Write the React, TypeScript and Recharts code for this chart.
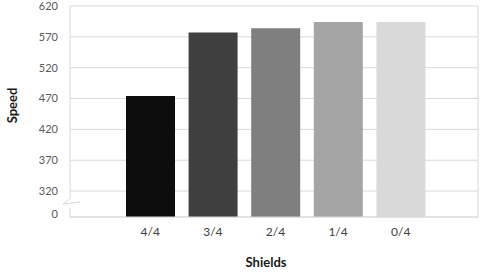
import { BarChart, Bar, Cell, XAxis, YAxis, CartesianGrid, Label } from 'recharts';

const categories = ['4/4', '3/4', '2/4', '1/4', '0/4'];
const speeds = [474, 577, 584, 594, 594];
const barColors = ['#0d0d0d', '#404040', '#7f7f7f', '#a5a5a5', '#d9d9d9'];

// bottom of the broken axis is shown as "0"
const yTicks = [278, 320, 370, 420, 470, 520, 570, 620];
const yTickLabels = ['0', '320', '370', '420', '470', '520', '570', '620'];

const data = categories.map((name, i) => ({ name, speed: speeds[i] }));

const FONT = 'Lato, "Open Sans", sans-serif';
const GRID = '#d9d9d9';

function YTick(props: any) {
  const { x, y, payload } = props;
  const idx = yTicks.indexOf(payload.value);
  const isBreak = idx === 0;
  return (
    <g>
      {isBreak && (
        <g>
          <rect x={66} y={y - 18} width={9} height={9} fill="#fff" />
          <path d={`M70,${y - 18} L63,${y - 13} L80,${y - 15}`} fill="none" stroke={GRID} strokeWidth={1} />
        </g>
      )}
      <text
        x={x}
        y={isBreak ? y - 3 : y}
        dy="0.35em"
        textAnchor="end"
        fill="#595959"
        fontSize={11}
        fontFamily={FONT}
      >
        {yTickLabels[idx]}
      </text>
    </g>
  );
}

function SpeedLabel(props: any) {
  const { viewBox } = props;
  const cx = viewBox.x + 12;
  const cy = viewBox.y + viewBox.height / 2 - 6;
  return (
    <text
      x={cx}
      y={cy}
      transform={`rotate(-90, ${cx}, ${cy})`}
      textAnchor="middle"
      dominantBaseline="central"
      fill="#1a1a1a"
      fontSize={13}
      fontWeight="bold"
      fontFamily={FONT}
    >
      Speed
    </text>
  );
}

export default function App() {
  return (
    <div style={{ position: 'absolute', left: 0, top: 0, background: '#fff' }}>
      <BarChart
        width={485}
        height={273}
        data={data}
        margin={{ top: 6, right: 7, left: 0, bottom: 0 }}
      >
        <CartesianGrid vertical={true} verticalPoints={[478]} stroke={GRID} />
        <XAxis
          dataKey="name"
          height={56}
          padding={{ left: 49, right: 46 }}
          axisLine={{ stroke: GRID }}
          tickLine={false}
          tickSize={0}
          tickMargin={10}
          tick={{ fill: '#404040', fontSize: 12, fontFamily: FONT }}
          label={{
            value: 'Shields',
            position: 'insideBottom',
            offset: 6,
            dx: -8,
            fill: '#1a1a1a',
            fontSize: 13,
            fontWeight: 'bold',
            fontFamily: FONT,
          }}
        />
        <YAxis
          width={70}
          domain={[278, 620]}
          ticks={yTicks}
          interval={0}
          allowDataOverflow
          axisLine={{ stroke: GRID }}
          tickLine={false}
          tickSize={0}
          tickMargin={12}
          tick={<YTick />}
        >
          <Label content={<SpeedLabel />} />
        </YAxis>
        <Bar dataKey="speed" barSize={49} isAnimationActive={false}>
          {data.map((d, i) => (
            <Cell key={d.name} fill={barColors[i]} />
          ))}
        </Bar>
      </BarChart>
    </div>
  );
}
